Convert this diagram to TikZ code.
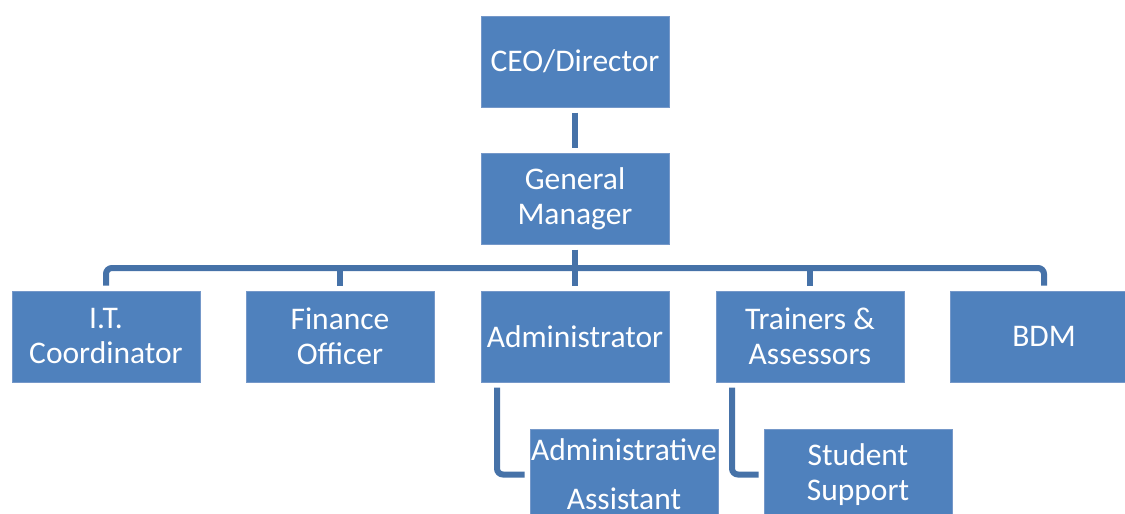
\documentclass[tikz,border=0pt]{standalone}
\usepackage{fontspec}
\setmainfont{Carlito}
\usetikzlibrary{calc}
\definecolor{boxblue}{HTML}{4F81BD}
\definecolor{boxedge}{HTML}{7598C9}
\definecolor{linkblue}{HTML}{4672A8}
\begin{document}
\begin{tikzpicture}[x=1pt,y=-1pt,
  orgbox/.style={rectangle, fill=boxblue, draw=boxedge, line width=0.8pt,
    minimum width=188pt, minimum height=91pt, inner sep=0pt, outer sep=5.5pt,
    text=white, align=center, font=\fontsize{31.5}{35}\selectfont},
  link/.style={draw=linkblue, line width=6pt, rounded corners=6pt}]
\useasboundingbox (0,0) rectangle (1125,514);
\clip (0,0) rectangle (1125,514);
\node[orgbox] (ceo) at (575,61.5) {CEO/Director};
\node[orgbox] (gm) at (575,198.5) {General\\Manager};
\node[orgbox] (it) at (106,336.5) {I.T.\\Coordinator};
\node[orgbox] (fin) at (340,336.5) {Finance\\Officer};
\node[orgbox] (adm) at (575,336.5) {Administrator};
\node[orgbox] (tra) at (810,336.5) {Trainers \&\\Assessors};
\node[orgbox] (bdm) at (1044,336.5) {BDM};
\node[orgbox] (asst) at (624,474.5) {Administrative\\[14pt]Assistant};
\node[orgbox] (stu) at (858,474.5) {Student\\Support};
\coordinate (bus) at (575,268);
\draw[link] (ceo.south) -- (gm.north);
\draw[link] (gm.south) -- (adm.north);
\draw[link] (it.north) |- (bus) -| (bdm.north);
\draw[link] (fin.north) -- (fin.north |- bus);
\draw[link] (tra.north) -- (tra.north |- bus);
\draw[link] ($(adm.south)+(-78,0)$) |- (asst.west);
\draw[link] ($(tra.south)+(-78,0)$) |- (stu.west);
\end{tikzpicture}
\end{document}
